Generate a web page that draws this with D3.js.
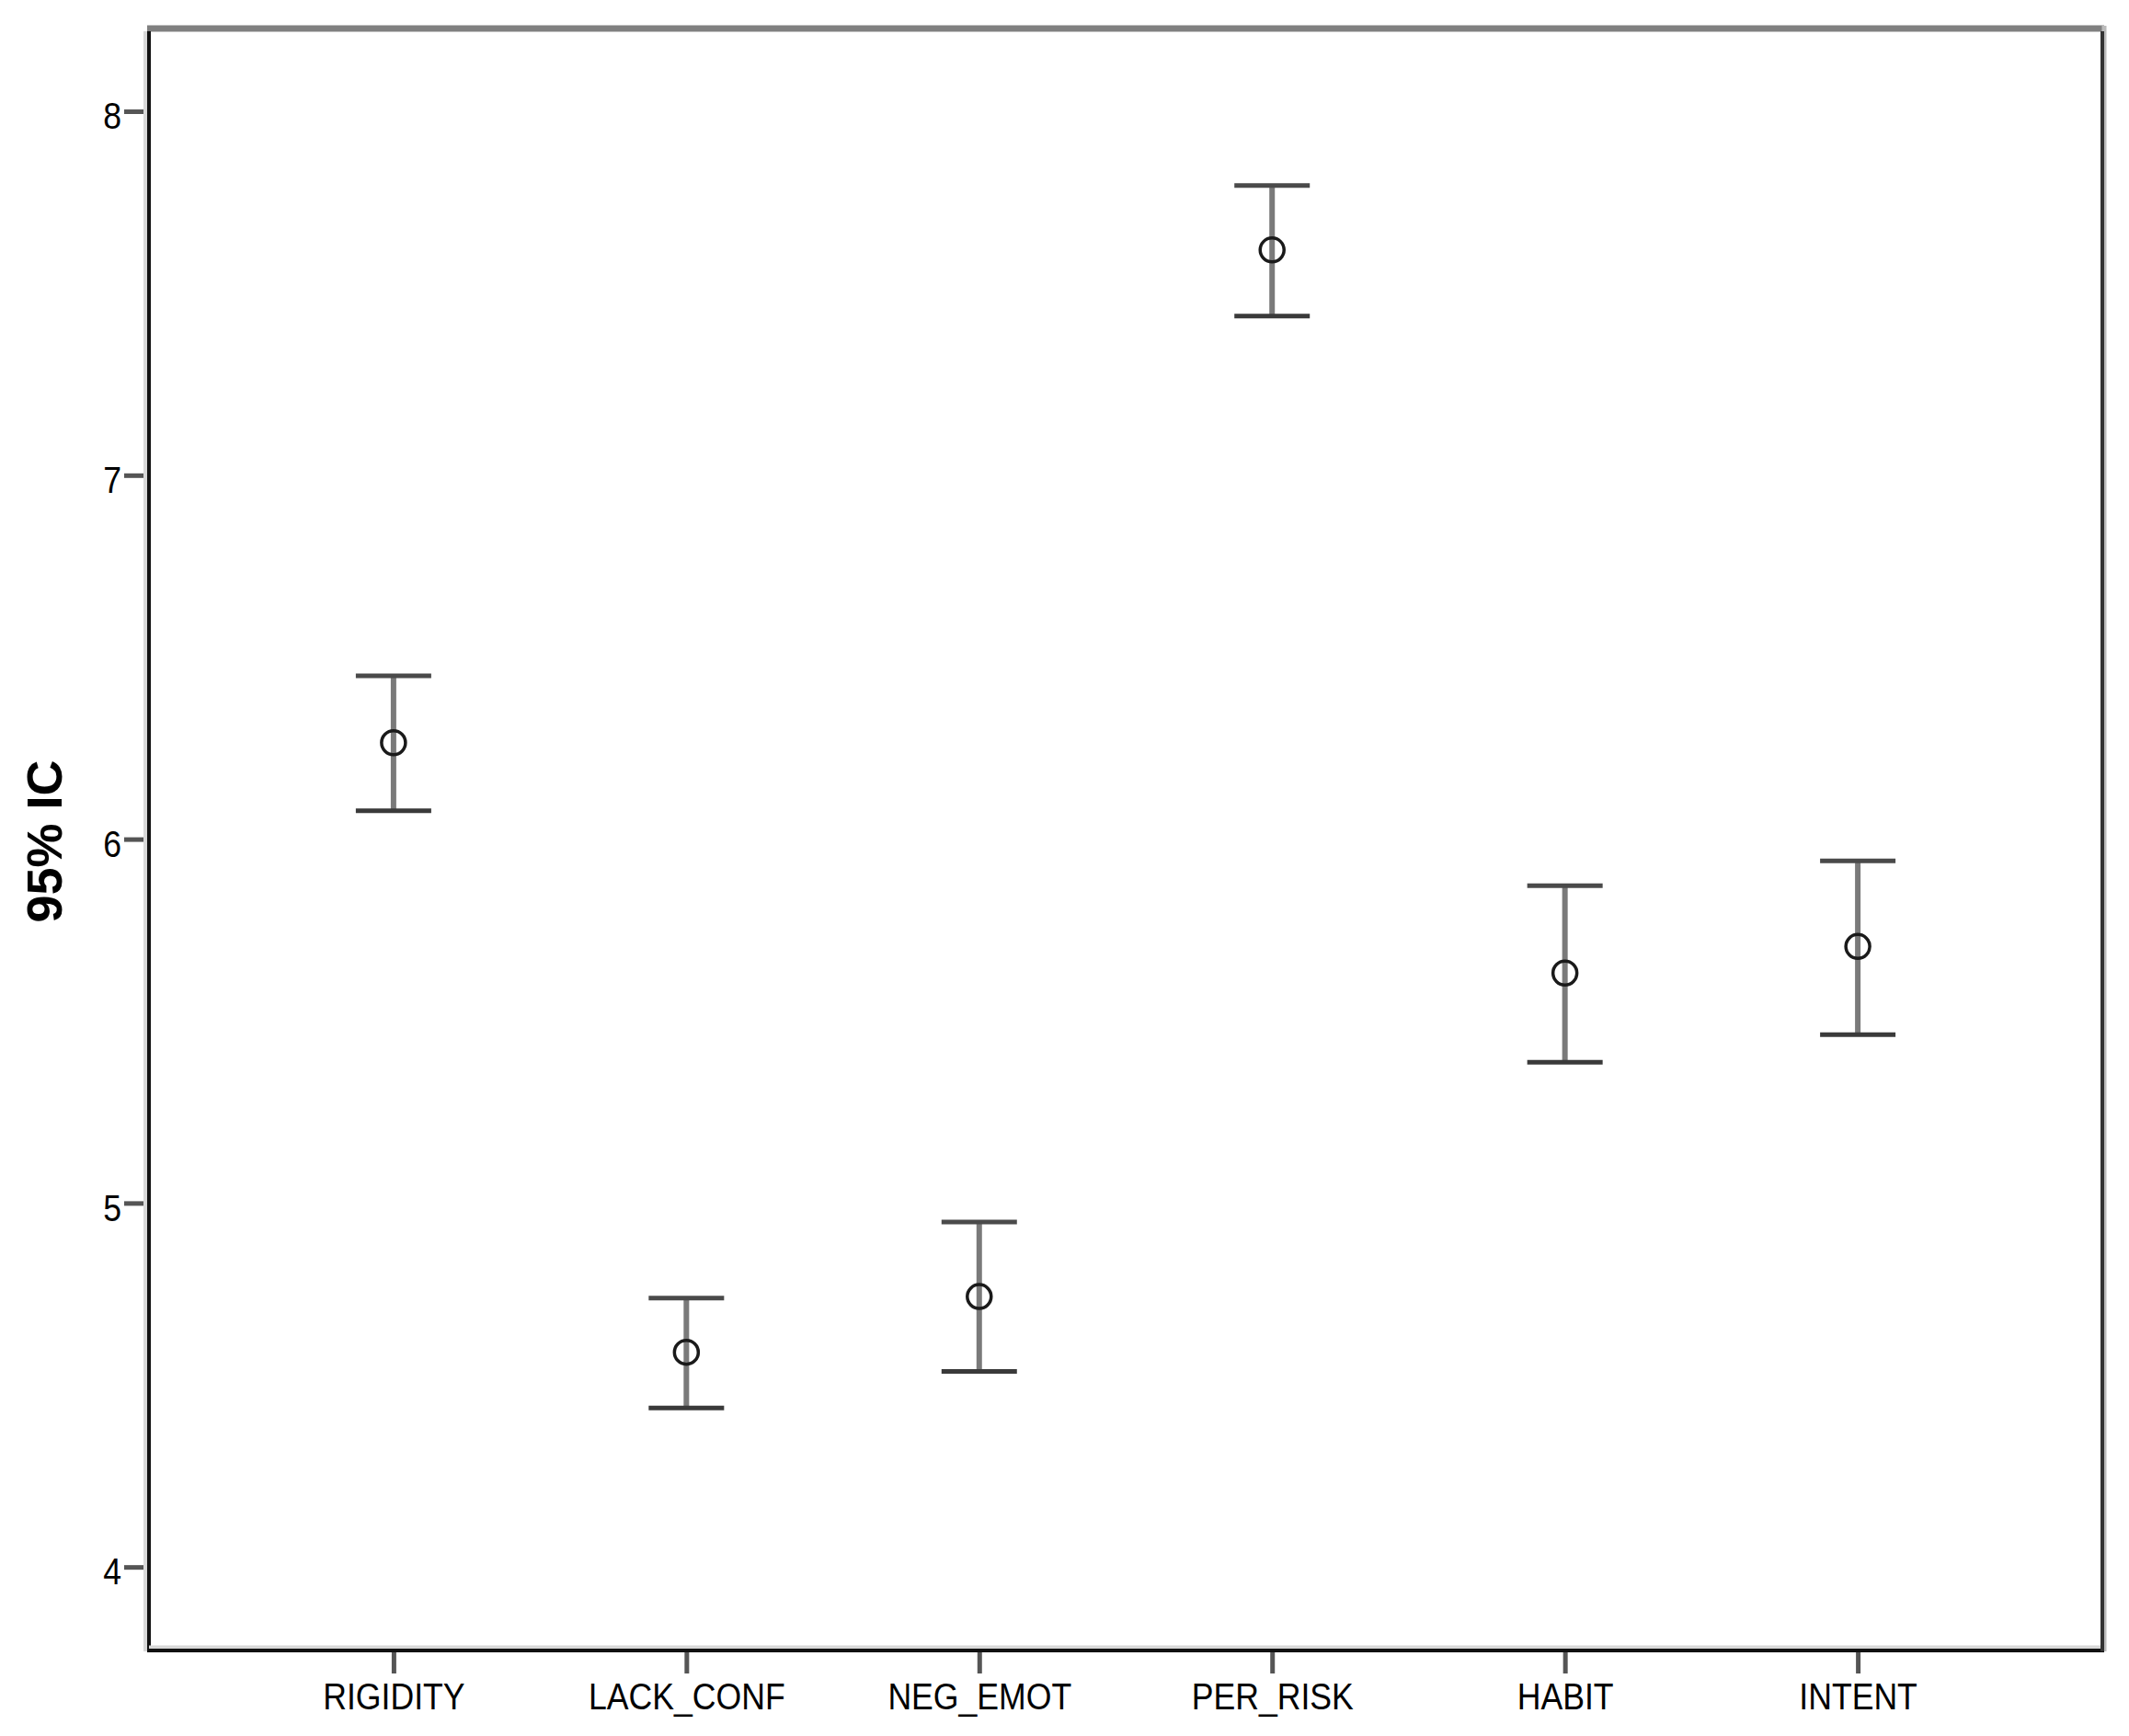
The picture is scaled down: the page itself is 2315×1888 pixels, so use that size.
<!DOCTYPE html>
<html>
<head>
<meta charset="utf-8">
<script src="https://cdn.jsdelivr.net/npm/d3@7"></script>
<style>
  html, body { margin: 0; padding: 0; background: #fff; }
  svg { display: block; }
</style>
</head>
<body>
<svg id="chart" width="2315" height="1888"></svg>
<script>
const categories = ["RIGIDITY", "LACK_CONF", "NEG_EMOT", "PER_RISK", "HABIT", "INTENT"];
const means = [6.265, 4.590, 4.743, 7.619, 5.632, 5.705];
const upper = [6.449, 4.739, 4.948, 7.796, 5.872, 5.940];
const lower = [6.078, 4.437, 4.537, 7.437, 5.387, 5.463];
const yTicks = [4, 5, 6, 7, 8];
const yTitle = "95% IC";

const W = 2315, H = 1888;
const L = 162, R = 2286, T = 30, B = 1794;

const svg = d3.select("#chart");
svg.append("rect").attr("width", W).attr("height", H).attr("fill", "#fff");

const x = d3.scalePoint().domain(categories).range([L, R]).padding(0.835);
const y = d3.scaleLinear().domain([3.773, 8.23]).range([B, T]);

const data = categories.map((c, i) => ({ c, m: means[i], hi: upper[i], lo: lower[i] }));

// Y axis
const yAxis = svg.append("g").attr("transform", `translate(${L},0)`)
  .call(d3.axisLeft(y).tickValues(yTicks).tickFormat(d3.format("d")).tickSize(27).tickPadding(0));
yAxis.select(".domain").remove();
yAxis.selectAll(".tick line").attr("stroke", "#555").attr("stroke-width", 5);
yAxis.selectAll(".tick text")
  .attr("x", -30 / 0.89)
  .attr("dy", "0.47em")
  .attr("transform", "scale(0.89,1)")
  .attr("font-family", "'Liberation Sans', Arial, sans-serif")
  .attr("font-size", 40)
  .attr("fill", "#000");

// X axis
const xAxis = svg.append("g").attr("transform", `translate(0,${B})`)
  .call(d3.axisBottom(x).tickSize(26).tickPadding(0));
xAxis.select(".domain").remove();
xAxis.selectAll(".tick line").attr("stroke", "#555").attr("stroke-width", 5);
xAxis.selectAll(".tick text")
  .attr("y", 65)
  .attr("dy", 0)
  .attr("transform", "scale(0.89,1)")
  .attr("font-family", "'Liberation Sans', Arial, sans-serif")
  .attr("font-size", 40)
  .attr("fill", "#000");
// keep text centered on tick after scaling: tick groups are translated, text x=0 so centre is preserved

// Frame
svg.append("line").attr("x1", L - 2).attr("x2", R + 2).attr("y1", T + 1).attr("y2", T + 1)
  .attr("stroke", "#808080").attr("stroke-width", 7);
svg.append("line").attr("x1", L).attr("x2", L).attr("y1", T + 4).attr("y2", B + 2)
  .attr("stroke", "#d8d8d8").attr("stroke-width", 8).attr("transform", "translate(-2,0)");
svg.append("line").attr("x1", L).attr("x2", L).attr("y1", T + 4).attr("y2", B + 2)
  .attr("stroke", "#111").attr("stroke-width", 4);
svg.append("line").attr("x1", L).attr("x2", R + 2).attr("y1", B - 2).attr("y2", B - 2)
  .attr("stroke", "#d8d8d8").attr("stroke-width", 5);
svg.append("line").attr("x1", L - 2).attr("x2", R + 2).attr("y1", B + 1).attr("y2", B + 1)
  .attr("stroke", "#111").attr("stroke-width", 4);
svg.append("line").attr("x1", R + 2).attr("x2", R + 2).attr("y1", T - 2).attr("y2", B + 2)
  .attr("stroke", "#bbb").attr("stroke-width", 5);
svg.append("line").attr("x1", R).attr("x2", R).attr("y1", T + 4).attr("y2", B + 2)
  .attr("stroke", "#333").attr("stroke-width", 4);

// Error bars
const g = svg.append("g");
const capHalf = 41;
g.selectAll(".stem").data(data).join("line")
  .attr("x1", d => x(d.c)).attr("x2", d => x(d.c))
  .attr("y1", d => y(d.hi)).attr("y2", d => y(d.lo))
  .attr("stroke", "#7a7a7a").attr("stroke-width", 6);
g.selectAll(".capTop").data(data).join("line")
  .attr("x1", d => x(d.c) - capHalf).attr("x2", d => x(d.c) + capHalf)
  .attr("y1", d => y(d.hi)).attr("y2", d => y(d.hi))
  .attr("stroke", "#4a4a4a").attr("stroke-width", 5);
g.selectAll(".capBot").data(data).join("line")
  .attr("x1", d => x(d.c) - capHalf).attr("x2", d => x(d.c) + capHalf)
  .attr("y1", d => y(d.lo)).attr("y2", d => y(d.lo))
  .attr("stroke", "#3a3a3a").attr("stroke-width", 5);
g.selectAll(".pt").data(data).join("circle")
  .attr("cx", d => x(d.c)).attr("cy", d => y(d.m)).attr("r", 13)
  .attr("fill", "none").attr("stroke", "#1a1a1a").attr("stroke-width", 3.5);

// Y title
svg.append("text")
  .attr("transform", "translate(67,915) rotate(-90)")
  .attr("text-anchor", "middle")
  .attr("font-family", "'Liberation Sans', Arial, sans-serif")
  .attr("font-weight", "bold")
  .attr("font-size", 54)
  .attr("fill", "#000")
  .text(yTitle);
</script>
</body>
</html>
